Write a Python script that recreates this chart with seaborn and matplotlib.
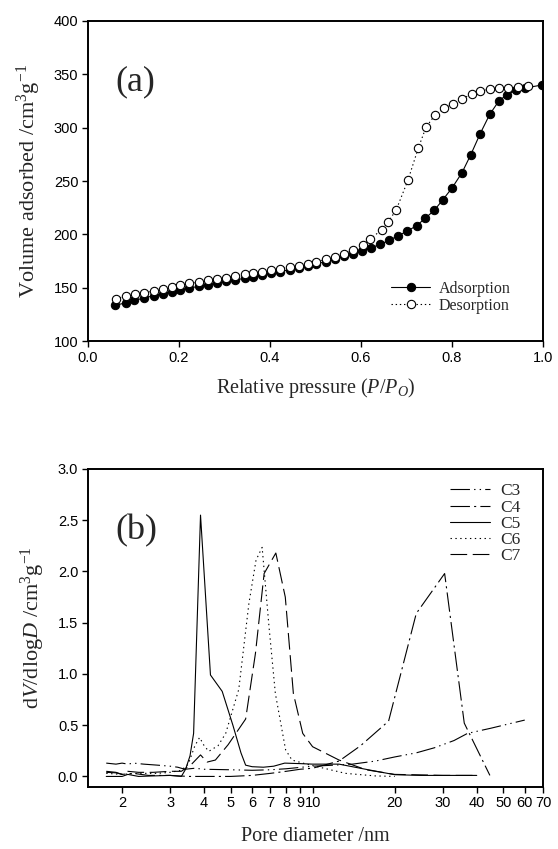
# N2 sorption isotherm (a) and pore size distributions (b)
import matplotlib
matplotlib.use('Agg')
import matplotlib.pyplot as plt
import seaborn as sns
from matplotlib.ticker import FixedLocator, NullLocator, FormatStrFormatter

# ---- panel (a): isotherm ----
ads_p = [0.06, 0.083, 0.102, 0.123, 0.144, 0.164, 0.184, 0.203, 0.223, 0.244,
         0.263, 0.284, 0.303, 0.323, 0.344, 0.363, 0.383, 0.402, 0.423, 0.443,
         0.463, 0.483, 0.502, 0.523, 0.542, 0.562, 0.583, 0.602, 0.623, 0.642,
         0.662, 0.682, 0.702, 0.722, 0.741, 0.761, 0.78, 0.80, 0.822, 0.841,
         0.862, 0.883, 0.903, 0.921, 0.941, 0.961, 0.998]
ads_v = [133.4, 135.9, 138.1, 140.3, 142.5, 144.4, 146.3, 148.1, 149.7, 151.3,
         152.8, 154.4, 155.9, 157.2, 158.8, 160.3, 161.9, 163.4, 165.0, 166.9,
         168.8, 170.6, 172.5, 174.4, 176.9, 179.4, 181.9, 184.4, 187.5, 190.6,
         194.4, 198.8, 203.1, 208.1, 215.0, 222.5, 232.5, 243.4, 257.8, 274.4,
         294.4, 312.5, 325.0, 331.0, 335.0, 337.2, 340.0]
des_p = [0.061, 0.083, 0.103, 0.123, 0.144, 0.164, 0.184, 0.203, 0.223, 0.244,
         0.263, 0.284, 0.303, 0.323, 0.344, 0.363, 0.383, 0.402, 0.423, 0.443,
         0.463, 0.483, 0.502, 0.523, 0.542, 0.562, 0.583, 0.605, 0.620, 0.646,
         0.659, 0.677, 0.703, 0.726, 0.743, 0.762, 0.782, 0.802, 0.822, 0.844,
         0.8625, 0.883, 0.903, 0.924, 0.945, 0.968]
des_v = [139.7, 141.9, 143.8, 145.3, 146.9, 148.8, 150.6, 152.2, 154.0, 155.3,
         156.9, 158.1, 159.4, 161.3, 162.5, 163.8, 164.7, 166.3, 167.8, 169.4,
         170.6, 172.5, 174.5, 176.5, 178.8, 181.5, 185.0, 190.0, 195.5, 204.5,
         211.5, 222.5, 250.5, 281.0, 300.5, 311.5, 318.0, 322.5, 327.0, 331.5,
         334.5, 336.0, 336.8, 337.3, 338.0, 339.0]

# ---- panel (b): pore size distributions ----
c3_d = [1.75, 1.9, 2.0, 2.1, 2.2, 2.4, 2.7, 3.0, 3.2, 3.4, 3.7, 4.0, 5.0, 6.0,
        7.0, 8.0, 10.0, 12.0, 14.0, 17.0, 20.0, 24.0, 28.0, 33.0, 37.0, 45.0, 60.0]
c3_v = [0.13, 0.12, 0.13, 0.12, 0.13, 0.12, 0.11, 0.10, 0.09, 0.07, 0.08, 0.07,
        0.065, 0.06, 0.065, 0.075, 0.10, 0.11, 0.12, 0.15, 0.19, 0.23, 0.28,
        0.35, 0.42, 0.47, 0.55]
c4_d = [1.75, 1.9, 2.0, 2.2, 2.5, 3.0, 3.5, 4.0, 4.5, 5.0, 6.0, 7.0, 8.0, 9.0,
        10.0, 12.5, 15.0, 19.0, 24.0, 30.5, 36.0, 44.7]
c4_v = [0.05, 0.04, 0.02, 0.03, 0.01, 0.01, 0.0, 0.0, 0.0, 0.0, 0.01, 0.03,
        0.05, 0.07, 0.08, 0.15, 0.30, 0.54, 1.59, 1.98, 0.52, 0.01]
c5_d = [1.75, 2.0, 2.1, 2.3, 2.6, 3.0, 3.3, 3.42, 3.55, 3.66, 3.88, 4.22, 4.66,
        5.1, 5.46, 5.68, 6.0, 6.6, 7.2, 7.9, 9.0, 10.0, 12.5, 16.0, 20.0, 25.0,
        30.0, 40.0]
c5_v = [0.0, 0.0, 0.02, 0.0, 0.005, 0.01, 0.0, 0.07, 0.2, 0.42, 2.55, 0.99, 0.83,
        0.5, 0.23, 0.11, 0.095, 0.09, 0.10, 0.13, 0.125, 0.12, 0.12, 0.065, 0.017,
        0.01, 0.01, 0.01]
c6_d = [1.75, 2.0, 2.3, 2.7, 3.0, 3.3, 3.5, 3.7, 3.85, 4.0, 4.16, 4.5, 4.8, 5.36,
        5.84, 6.2, 6.53, 6.92, 7.3, 7.96, 8.4, 9.5, 11.0, 13.2, 17.0, 20.0]
c6_v = [0.03, 0.02, 0.03, 0.03, 0.04, 0.06, 0.12, 0.3, 0.38, 0.3, 0.245, 0.3,
        0.42, 0.85, 1.69, 2.11, 2.235, 1.46, 0.81, 0.26, 0.16, 0.12, 0.08, 0.03,
        0.005, 0.0]
c7_d = [1.75, 1.9, 2.0, 2.1, 2.3, 2.6, 3.0, 3.3, 3.6, 3.88, 4.1, 4.4, 4.9, 5.68,
        6.17, 6.64, 7.33, 7.94, 8.5, 9.2, 10.0, 12.5, 15.7, 20.0, 25.0, 30.0, 40.0]
c7_v = [0.04, 0.035, 0.02, 0.05, 0.04, 0.04, 0.05, 0.05, 0.12, 0.21, 0.14, 0.16,
        0.31, 0.56, 1.2, 1.98, 2.18, 1.75, 0.81, 0.42, 0.29, 0.16, 0.065, 0.02,
        0.015, 0.01, 0.01]

pore_ticks = [2, 3, 4, 5, 6, 7, 8, 9, 10, 20, 30, 40, 50, 60, 70]

sns.set_style('ticks')
plt.rcParams['font.family'] = ['Liberation Sans', 'DejaVu Sans']
plt.rcParams['mathtext.fontset'] = 'custom'
plt.rcParams['mathtext.rm'] = 'Liberation Serif'
plt.rcParams['mathtext.it'] = 'Liberation Serif:italic'
plt.rcParams['lines.scale_dashes'] = False

serif = 'Liberation Serif'
lw = 0.8

fig = plt.figure(figsize=(5.58, 8.49), dpi=100)
ax1 = fig.add_axes([0.1577, 0.5983, 0.8154, 0.377])
ax2 = fig.add_axes([0.1577, 0.0734, 0.8154, 0.3742])

# (a)
sns.lineplot(x=ads_p, y=ads_v, ax=ax1, sort=False, estimator=None, color='k',
             lw=lw, marker='o', markersize=6, markerfacecolor='k',
             markeredgecolor='k', label='Adsorption')
sns.lineplot(x=des_p, y=des_v, ax=ax1, sort=False, estimator=None, color='k',
             lw=lw, linestyle=(0, (1, 2)), marker='o', markersize=6,
             markerfacecolor='white', markeredgecolor='k', markeredgewidth=0.8,
             label='Desorption')
ax1.set_xlim(0, 1.0)
ax1.set_ylim(100, 400)
ax1.set_xticks([0, 0.2, 0.4, 0.6, 0.8, 1.0])
ax1.set_yticks(range(100, 401, 50))
ax1.xaxis.set_major_formatter(FormatStrFormatter('%.1f'))
ax1.set_xlabel('Relative pressure ($P$/$P_O$)', family=serif, fontsize=14.5, labelpad=8)
ax1.set_ylabel('Volume adsorbed /cm$^3$g$^{-1}$', family=serif, fontsize=16, labelpad=8)
ax1.text(0.06, 0.81, '(a)', transform=ax1.transAxes, family=serif, fontsize=26,
         va='center', ha='left')
ax1.legend(loc='lower left', bbox_to_anchor=(0.666, 0.085), frameon=False,
           prop={'family': serif, 'size': 11.5}, handlelength=2.45,
           handletextpad=0.55, labelspacing=0.05, borderpad=0, borderaxespad=0,
           numpoints=1)

# (b)
styles = [
    (c3_d, c3_v, 'C3', (0, (14, 3, 1, 3, 1, 3))),
    (c4_d, c4_v, 'C4', (0, (14, 3, 1.5, 3))),
    (c5_d, c5_v, 'C5', '-'),
    (c6_d, c6_v, 'C6', (0, (1, 2.5))),
    (c7_d, c7_v, 'C7', (0, (12, 4))),
]
for d, v, name, ls in styles:
    sns.lineplot(x=d, y=v, ax=ax2, sort=False, estimator=None, color='k',
                 lw=lw, linestyle=ls, label=name)
ax2.set_xscale('log')
ax2.set_xlim(1.5, 70)
ax2.set_ylim(-0.1, 3.0)
ax2.xaxis.set_major_locator(FixedLocator(pore_ticks))
ax2.xaxis.set_minor_locator(NullLocator())
ax2.set_xticklabels([str(t) for t in pore_ticks])
ax2.set_yticks([0, 0.5, 1.0, 1.5, 2.0, 2.5, 3.0])
ax2.yaxis.set_major_formatter(FormatStrFormatter('%.1f'))
ax2.set_xlabel('Pore diameter /nm', family=serif, fontsize=14.5, labelpad=12)
ax2.set_ylabel('d$V$/dlog$D$ /cm$^3$g$^{-1}$', family=serif, fontsize=16, labelpad=8)
ax2.text(0.06, 0.806, '(b)', transform=ax2.transAxes, family=serif, fontsize=26,
         va='center', ha='left')
ax2.legend(loc='upper left', bbox_to_anchor=(0.796, 0.955), frameon=False,
           prop={'family': serif, 'size': 12.5}, handlelength=2.3,
           handletextpad=0.6, labelspacing=0.0, borderpad=0, borderaxespad=0)

for ax in (ax1, ax2):
    for s in ax.spines.values():
        s.set_visible(True)
        s.set_linewidth(1.4)
        s.set_color('k')
    ax.tick_params(direction='out', length=4, width=1.0, labelsize=10.5,
                   colors='k', pad=3)
    ax.grid(False)

fig.savefig('out.png', dpi=100)
